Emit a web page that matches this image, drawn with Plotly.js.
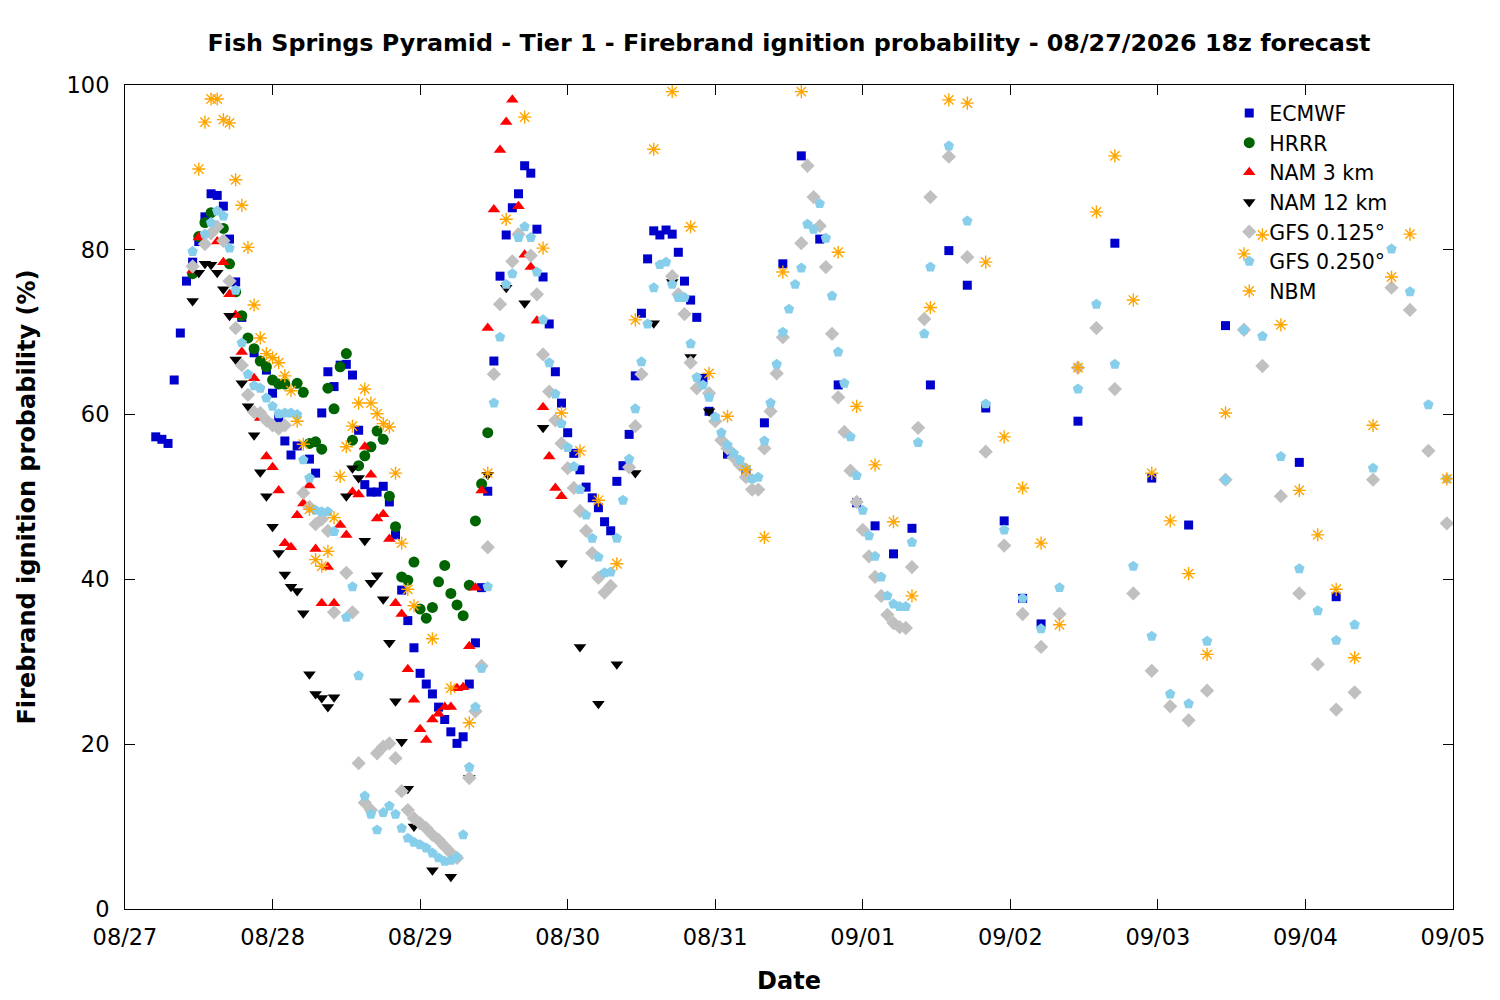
<!DOCTYPE html>
<html>
<head>
<meta charset="utf-8">
<script src="https://cdn.plot.ly/plotly-3.0.1.min.js"></script>
<style>
  body { margin: 0; background: #fff; }
  #chart { width: 1500px; height: 1000px; }
</style>
</head>
<body>
<div id="chart"></div>
<script>
// forecast hours counted from 08/27 00z, values in %
const ecmwf_h = [5,6,7,8,9,10,11,12,13,14,15,16,17,18,19,21,23,24,25,26,27,28,30,31,32,33,34,35,36,37,38,39,40,41,42,43,44,45,46,47,48,49,50,51,52,53,54,55,56,57,58,59,60,61,62,63,64,65,66,67,68,69,70,71,72,73,74,75,76,77,78,79,80,81,82,83,84,85,86,87,88,89,90,91,92,93,94,95,98,101,104,107,110,113,116,119,122,125,128,131,134,137,140,143,146,149,155,161,167,173,179,191,197];
const ecmwf_v = [57.3,57.0,56.5,64.2,69.9,76.2,78.5,81.0,84.0,86.8,86.6,85.3,81.3,76.1,71.8,67.5,65.4,62.6,59.6,56.8,55.1,56.2,54.6,52.9,60.2,65.2,63.4,66.0,66.1,64.8,58.1,51.5,50.6,50.6,51.3,49.4,45.4,38.7,35.0,31.7,28.6,27.3,26.1,24.5,23.0,21.5,20.1,20.9,27.3,32.3,39.0,50.7,66.5,76.8,81.8,85.1,86.8,90.2,89.3,82.5,76.7,71.0,65.2,61.4,57.8,55.3,53.3,51.2,49.9,48.7,47.0,45.9,51.9,53.8,57.6,64.7,72.3,78.9,82.3,81.8,82.4,81.9,79.7,76.2,73.9,71.8,64.4,60.4,55.2,53.0,59.0,78.3,91.4,81.3,63.6,49.3,46.5,43.1,46.2,63.6,79.9,75.7,60.8,47.1,37.7,34.6,59.2,80.8,52.3,46.6,70.8,54.2,37.9];

const hrrr_h = [11,12,13,14,16,17,18,19,20,21,22,23,24,25,26,28,29,30,31,32,33,34,35,36,37,38,39,40,41,42,43,44,45,46,47,48,49,50,51,52,53,54,55,56,57,58,59];
const hrrr_v = [77.1,81.6,83.3,84.5,82.6,78.3,74.9,72.0,69.3,68.0,66.5,65.8,64.2,63.7,63.7,63.8,62.7,56.5,56.7,55.8,63.2,60.7,65.8,67.4,56.9,53.8,55.0,56.1,58.0,57.0,50.1,46.4,40.3,39.9,42.1,36.4,35.3,36.6,39.7,41.7,38.3,36.9,35.6,39.3,47.1,51.6,57.8];

const nam3_h = [11,12,15,16,17,18,19,21,22,23,24,25,26,27,28,29,30,31,32,33,34,35,36,37,38,39,40,41,42,43,44,45,46,47,48,49,50,51,52,53,54,55,56,57,58,59,60,61,62,63,64,65,66,67,68,69,70,71];
const nam3_v = [77.5,81.5,81.0,78.5,74.6,72.1,67.6,64.4,59.6,54.9,53.6,50.8,44.4,43.9,47.8,49.2,51.4,43.7,37.1,41.5,37.1,46.6,45.4,50.6,50.3,56.1,52.7,47.4,47.9,44.9,37.1,35.8,29.1,25.4,21.8,20.5,23.0,23.7,24.5,24.5,26.8,26.9,31.9,39.0,50.8,70.5,84.9,92.1,95.5,98.2,85.3,79.4,77.9,71.4,60.9,54.9,51.1,50.1];

const nam12_h = [11,12,13,14,15,16,17,18,19,20,21,22,23,24,25,26,27,28,29,30,31,32,33,34,36,37,38,39,40,41,42,43,44,45,46,47,50,53,56,59,62,65,68,71,74,77,80,83,86,89,92,95];
const nam12_v = [73.8,77.2,78.3,78.2,77.2,75.2,72.0,66.7,63.8,61.0,57.5,53.0,50.1,46.4,43.2,40.6,39.1,38.6,35.9,28.5,26.1,25.6,24.5,25.7,50.1,53.5,52.3,44.7,39.6,40.5,37.6,32.3,25.2,20.3,14.6,10.0,4.7,3.9,15.9,52.7,75.4,73.5,58.4,42.0,31.8,24.9,29.7,52.9,71.1,76.1,67.0,60.4];

const gfs125_h = [11,13,14,15,16,17,18,19,20,21,22,23,24,25,26,29,30,31,32,33,34,36,37,38,39,40,41,42,43,44,45,46,47,48,49,50,51,52,53,54,56,57,58,59,60,61,63,64,66,67,68,69,70,71,72,73,74,75,76,77,78,79,82,83,84,89,90,91,92,93,95,96,97,98,99,100,101,102,103,104,105,106,107,110,111,112,113,114,115,116,117,118,119,120,121,122,123,124,125,126,127,128,129,130,131,134,137,140,143,146,149,152,155,158,161,164,167,170,173,176,179,182,185,188,191,194,197,200,203,206,209,212,215];
const gfs125_v = [78.0,80.7,82.0,82.8,81.1,76.2,70.5,66.0,62.4,60.3,60.2,59.3,58.7,58.3,58.7,50.5,48.8,46.7,47.3,45.9,36.0,40.8,36.0,17.7,12.9,12.0,18.9,19.7,20.1,18.3,14.3,12.0,11.0,10.4,9.8,9.0,8.4,7.6,6.8,6.2,15.9,24.0,29.5,43.9,64.9,73.4,78.6,81.9,79.3,74.6,67.3,62.8,59.3,56.5,53.5,51.1,48.3,45.9,43.2,40.2,38.4,39.2,53.6,58.6,64.9,76.8,74.6,72.2,66.3,63.2,62.6,59.2,56.9,55.9,54.8,53.9,52.4,50.9,50.9,55.9,60.4,65.0,69.4,80.8,90.2,86.4,82.9,77.9,69.8,62.1,57.9,53.2,49.4,46.0,42.8,40.3,38.0,35.7,34.7,34.2,34.1,41.5,58.4,71.6,86.4,91.3,79.1,55.5,44.1,35.8,31.8,35.8,65.7,70.5,63.1,38.3,28.9,24.6,22.9,26.5,52.1,70.3,65.9,50.1,38.3,29.7,24.2,26.3,52.1,75.4,72.7,55.6,46.8];

const gfs250_h = [11,13,14,15,16,17,18,19,20,21,22,23,24,25,26,27,28,29,30,31,32,33,34,36,37,38,39,40,41,42,43,44,45,46,47,48,49,50,51,52,53,54,55,56,57,58,59,60,61,62,63,64,65,66,67,68,69,70,71,72,73,74,75,76,77,78,79,80,81,82,83,84,85,86,87,88,89,90,91,92,93,94,95,96,97,98,99,100,101,102,103,104,105,106,107,108,109,110,111,112,113,114,115,116,117,118,119,120,121,122,123,124,125,126,127,128,129,130,131,134,137,140,143,146,149,152,155,158,161,164,167,170,173,176,179,182,185,188,191,194,197,200,203,206,209,212,215];
const gfs250_v = [79.8,81.9,83.3,84.7,84.1,80.2,75.1,68.7,64.9,63.5,63.2,62.0,61.0,60.1,60.2,60.2,60.0,54.5,52.3,48.4,48.2,48.2,45.8,35.4,39.1,28.3,13.7,11.5,9.6,11.7,12.5,11.5,9.8,8.6,8.1,7.8,7.4,6.8,6.2,5.8,5.9,6.3,9.0,17.2,24.5,29.2,39.1,61.4,69.4,75.8,77.1,81.5,82.8,81.5,77.3,71.5,66.3,62.5,58.9,56.0,53.7,50.9,47.8,45.0,42.7,40.8,40.9,45.0,49.6,54.6,60.7,66.4,71.0,75.4,78.2,78.5,75.8,74.2,74.2,68.6,64.5,63.6,62.1,59.7,57.8,56.3,55.3,54.5,53.5,52.2,52.4,56.8,61.4,66.1,70.0,72.8,75.8,77.8,83.1,82.5,85.6,81.4,74.4,67.6,63.8,57.3,52.6,48.4,45.3,42.8,40.3,38.0,37.0,36.7,36.7,44.5,56.6,69.8,77.9,92.6,83.5,61.3,46.0,37.7,34.0,39.0,63.1,73.4,66.1,41.6,33.1,26.1,24.9,32.5,52.1,70.3,69.5,54.9,41.3,36.2,32.6,34.5,53.5,80.1,74.9,61.2,52.2];

const nbm_h = [12,13,14,15,16,17,18,19,20,21,22,23,24,25,26,27,28,29,30,31,32,33,34,35,36,37,38,39,40,41,42,43,44,45,46,47,50,53,56,59,62,65,68,71,74,77,80,83,86,89,92,95,98,101,104,107,110,116,119,122,125,128,131,134,137,140,143,146,149,152,155,158,161,164,167,170,173,176,179,182,185,188,191,194,197,200,203,206,209,215];
const nbm_v = [89.8,95.5,98.3,98.3,95.8,95.4,88.5,85.4,80.3,73.3,69.3,67.4,66.9,66.3,64.7,62.9,59.2,56.4,48.5,42.4,41.6,43.4,47.5,52.5,56.1,58.6,61.4,63.1,61.4,60.1,58.9,58.5,52.9,44.4,38.8,36.8,32.8,26.8,22.6,52.9,83.7,96.1,80.2,60.2,55.6,49.6,41.9,71.5,92.2,99.2,82.8,65.0,59.8,53.3,45.1,77.3,99.2,79.7,61.0,53.9,47.0,38.0,73.0,98.2,97.8,78.5,57.3,51.1,44.4,34.5,65.7,84.6,91.4,73.9,52.9,47.1,40.7,30.9,60.2,79.5,81.8,70.9,50.8,45.4,38.8,30.5,58.7,76.7,81.9,52.2];

const base = Date.UTC(2026, 7, 27, 0, 0);
function toDate(h) {
  const d = new Date(base + h * 3600000);
  return d.toISOString().slice(0, 16).replace('T', ' ');
}

function series(name, hours, vals, symbol, color, size) {
  const m = { symbol: symbol, color: color, size: size, line: { width: 0 } };
  if (symbol === 'asterisk-open') m.line = { width: 1.4, color: color };
  return {
    type: 'scatter', mode: 'markers', name: name,
    x: hours.map(toDate), y: vals, marker: m, cliponaxis: true
  };
}

const data = [
  series('ECMWF', ecmwf_h, ecmwf_v, 'square', '#0000cd', 9),
  series('HRRR', hrrr_h, hrrr_v, 'circle', '#006400', 11),
  series('NAM 3 km', nam3_h, nam3_v, 'triangle-up', '#ff0000', 11),
  series('NAM 12 km', nam12_h, nam12_v, 'triangle-down', '#000000', 11),
  series('GFS 0.125°', gfs125_h, gfs125_v, 'diamond', '#c0c0c0', 11),
  series('GFS 0.250°', gfs250_h, gfs250_v, 'pentagon', '#87ceeb', 11),
  series('NBM', nbm_h, nbm_v, 'asterisk-open', '#ffa500', 11)
];

const fam = 'DejaVu Sans, sans-serif';

const layout = {
  width: 1500,
  height: 1000,
  paper_bgcolor: '#fff',
  plot_bgcolor: '#fff',
  margin: { l: 125, r: 47, t: 85, b: 91, pad: 0 },
  font: { family: fam, size: 22, color: '#000' },
  title: {
    text: '<b>Fish Springs Pyramid - Tier 1 - Firebrand ignition probability - 08/27/2026 18z forecast</b>',
    font: { family: fam, size: 23.8, color: '#000' },
    x: 0.5, xref: 'paper', y: 0.957, yref: 'container', yanchor: 'middle'
  },
  xaxis: {
    type: 'date',
    range: ['2026-08-27', '2026-09-05'],
    dtick: 86400000,
    tick0: '2026-08-27',
    tickformat: '%m/%d',
    ticks: 'inside', ticklen: 10, tickcolor: '#000',
    ticklabelstandoff: 8,
    showline: true, linecolor: '#000', linewidth: 1, mirror: 'ticks',
    showgrid: false, zeroline: false,
    tickfont: { family: fam, size: 22.5 },
    title: { text: '<b>Date</b>', font: { family: fam, size: 24 }, standoff: 23 }
  },
  yaxis: {
    range: [0, 100],
    dtick: 20,
    ticks: 'inside', ticklen: 10, tickcolor: '#000',
    ticklabelstandoff: 10,
    showline: true, linecolor: '#000', linewidth: 1, mirror: 'ticks',
    showgrid: false, zeroline: false,
    tickfont: { family: fam, size: 22.5 },
    title: { text: '<b>Firebrand ignition probability (%)</b>', font: { family: fam, size: 24 }, standoff: 24 }
  },
  legend: {
    x: 0.955, y: 0.99, xanchor: 'right', yanchor: 'top',
    bgcolor: 'rgba(0,0,0,0)',
    font: { family: fam, size: 20.5 },
    tracegroupgap: 0,
    itemwidth: 30
  },
  showlegend: true
};

Plotly.newPlot('chart', data, layout, { staticPlot: true, displayModeBar: false });
</script>
</body>
</html>
